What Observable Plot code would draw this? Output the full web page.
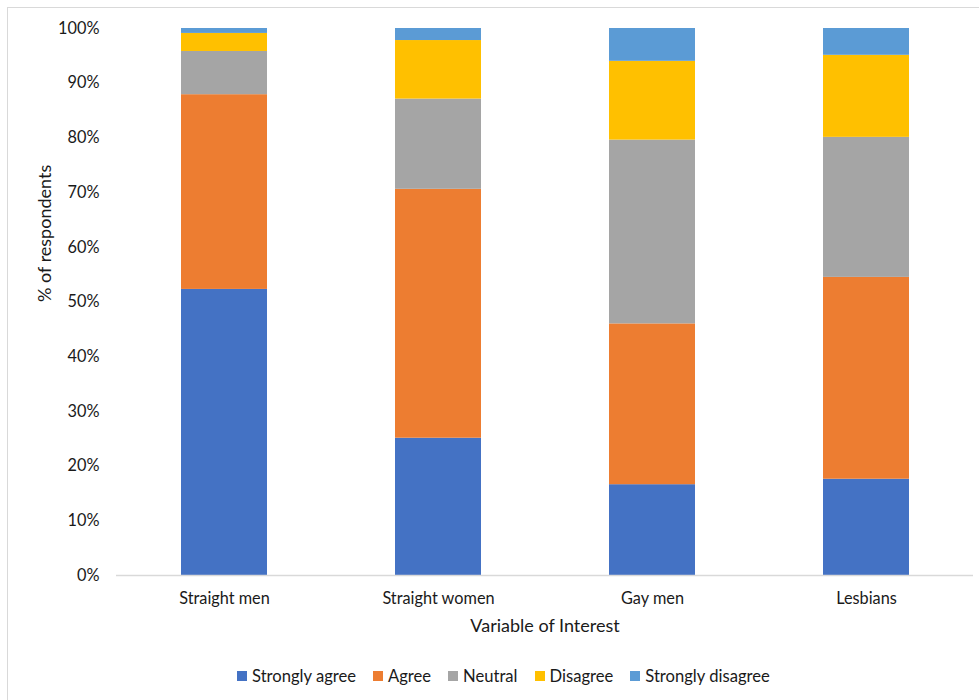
<!DOCTYPE html>
<html>
<head>
<meta charset="utf-8">
<script src="https://cdn.jsdelivr.net/npm/d3@7"></script>
<script src="https://cdn.jsdelivr.net/npm/@observablehq/plot@0.6"></script>
<style>
  html, body { margin: 0; padding: 0; background: #fff; }
  #page { position: relative; width: 979px; height: 700px; overflow: hidden; font-family: Lato, "Open Sans", sans-serif; color: #1a1a1a; }
  #frame { position: absolute; left: 7px; top: 7px; width: 1000px; height: 1000px; border-left: 1px solid #d9d9d9; border-top: 1px solid #d9d9d9; }
  #chart { position: absolute; left: 0; top: 0; }
  #legend { position: absolute; left: 237px; top: 666px; display: flex; align-items: center; font-size: 16.6px; white-space: nowrap; }
  #legend .item { display: flex; align-items: center; margin-right: 17px; }
  #legend .swatch { width: 10px; height: 10px; margin-right: 5px; }
</style>
</head>
<body>
<div id="page">
  <div id="frame"></div>
  <div id="chart"></div>
  <div id="legend"></div>
</div>
<script>
// Respondent groups along the x axis
const groups = ["Straight men", "Straight women", "Gay men", "Lesbians"];

// Response categories, stacked bottom to top
const responses = ["Strongly agree", "Agree", "Neutral", "Disagree", "Strongly disagree"];
const colors = ["#4472C4", "#ED7D31", "#A5A5A5", "#FFC000", "#5B9BD5"];

// Share of respondents (%) per group, one array per response
const stronglyAgree    = [52.3, 25.1, 16.6, 17.6];
const agree            = [35.6, 45.5, 29.4, 36.9];
const neutral          = [ 7.9, 16.5, 33.6, 25.6];
const disagree         = [ 3.3, 10.7, 14.4, 15.0];
const stronglyDisagree = [ 0.9,  2.2,  6.0,  4.9];

// Y axis ticks
const yTicks = [0, 10, 20, 30, 40, 50, 60, 70, 80, 90, 100];

const seriesValues = [stronglyAgree, agree, neutral, disagree, stronglyDisagree];
const rows = [];
responses.forEach((r, i) => {
  groups.forEach((g, j) => rows.push({group: g, response: r, value: seriesValues[i][j]}));
});

const chart = Plot.plot({
  width: 979,
  height: 645,
  marginTop: 28,
  marginBottom: 70,
  marginLeft: 116,
  marginRight: 6,
  style: {fontFamily: "Lato, 'Open Sans', sans-serif", fontSize: "16.3px", color: "#1a1a1a", background: "transparent"},
  x: {domain: groups, paddingInner: 0.6, paddingOuter: 0.3, label: null, tickSize: 0, tickPadding: 17},
  y: {domain: [0, 100], ticks: yTicks, tickFormat: d => d + "%", label: null, tickSize: 0, tickPadding: 17},
  color: {domain: responses, range: colors},
  marks: [
    Plot.barY(rows, {x: "group", y: "value", fill: "response", order: responses}),
    Plot.ruleY([0], {stroke: "#d9d9d9", strokeWidth: 1.5}),
    Plot.text(["Variable of Interest"], {text: d => d, frameAnchor: "bottom", dy: 56, fontSize: 18, fill: "#1a1a1a"}),
    Plot.text(["% of respondents"], {text: d => d, frameAnchor: "left", dx: -71, rotate: -90, fontSize: 18, fill: "#1a1a1a"})
  ]
});
document.getElementById("chart").appendChild(chart);

// Legend below the chart
const legend = d3.select("#legend");
responses.forEach((r, i) => {
  const item = legend.append("div").attr("class", "item");
  item.append("div").attr("class", "swatch").style("background", colors[i]);
  item.append("span").text(r);
});
</script>
</body>
</html>
